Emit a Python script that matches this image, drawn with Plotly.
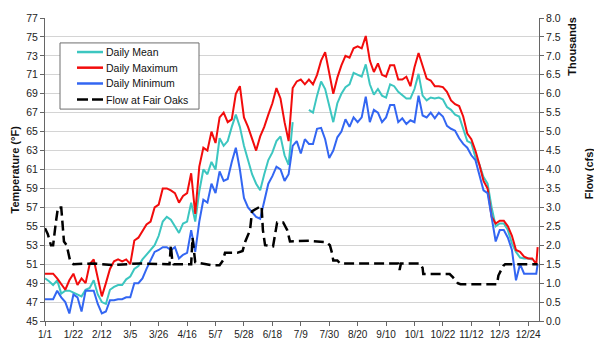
import plotly.graph_objects as go

# ---- data (day index from Jan 1) ----
day_index = list(range(0, 364, 3)) + [364]

daily_max = [50.0, 50.0, 50.0, 49.5, 48.9, 48.3, 49.3, 50.0, 48.8, 49.5, 49.0, 51.0, 51.5, 49.5, 47.6, 49.0,
             50.5, 51.3, 51.5, 51.3, 51.5, 51.0, 53.5, 53.8, 54.5, 55.2, 55.5, 57.0, 57.3, 59.0, 59.0, 58.8,
             58.5, 57.5, 58.2, 58.5, 60.6, 56.3, 61.3, 63.3, 63.0, 65.0, 63.8, 66.5, 67.0, 66.0, 66.3, 69.0,
             69.8, 66.5, 65.5, 64.2, 63.0, 64.5, 65.5, 66.8, 68.0, 69.6, 68.5, 66.0, 64.0, 69.6, 70.3, 70.5,
             70.0, 70.5, 70.0, 71.0, 72.5, 73.4, 71.0, 69.0, 70.7, 72.0, 73.0, 72.8, 73.8, 74.0, 73.8, 75.1,
             72.5, 71.3, 72.2, 71.0, 70.8, 72.0, 72.0, 70.5, 70.5, 70.8, 69.8, 71.8, 73.3, 72.0, 70.6, 70.4,
             69.8, 69.8, 69.7, 69.2, 68.3, 67.9, 67.7, 66.6, 64.8, 64.2, 63.0, 61.5, 59.8, 59.0, 56.0, 55.3,
             55.6, 55.6, 55.0, 54.0, 52.5, 52.3, 51.8, 51.6, 51.6, 51.0, 52.8]

daily_mean = [49.5, 49.2, 48.8, 49.3, 47.9, 48.2, 48.2, 48.0, 47.8, 47.6, 48.3, 48.5, 49.3, 47.8, 47.0, 46.8,
              48.3, 48.6, 48.8, 48.8, 49.4, 49.7, 50.5, 50.8, 51.5, 52.0, 52.5, 53.0, 54.0, 55.5, 56.0, 55.7,
              55.0, 54.3, 55.3, 55.5, 57.5, 55.5, 58.7, 61.0, 60.5, 61.8, 61.0, 64.3, 63.5, 64.0, 65.5, 66.8,
              65.5, 63.5, 62.0, 60.5, 59.5, 58.8, 60.5, 62.0, 62.8, 64.0, 64.5, 62.5, 61.5, 66.0, None, None,
              None, 67.3, 67.0, 68.8, 70.3, 69.5, 67.8, 66.0, 68.0, 69.0, 69.7, 70.0, 71.2, 71.0, 70.8, 72.1,
              70.0, 68.9, 69.5, 68.8, 68.6, 70.0, 69.8, 69.2, 68.8, 68.5, 68.5, 69.5, 71.1, 68.8, 68.3, 68.6,
              68.5, 68.6, 68.4, 67.6, 67.3, 66.8, 66.6, 65.4, 64.0, 63.8, 62.3, 61.5, 60.2, 59.5, 57.0, 55.0,
              55.3, 55.3, 54.6, 53.2, 52.3, 51.7, 51.6, 51.6, 51.5, None, None]

daily_min = [47.3, 47.3, 47.3, 48.2, 47.5, 47.0, 45.8, 47.8, 47.5, 46.0, 48.2, 48.2, 48.2, 46.8, 45.8, 46.0,
             47.2, 47.2, 47.3, 47.3, 47.5, 47.5, 49.0, 49.0, 49.5, 50.5, 51.5, 52.3, 52.5, 52.8, 52.8, 52.5,
             52.8, 51.6, 52.0, 52.2, 54.6, 52.3, 55.5, 57.8, 57.5, 59.5, 58.5, 60.8, 59.8, 60.0, 61.8, 63.3,
             61.0, 58.0, 57.0, 56.5, 56.0, 55.8, 57.5, 59.5, 60.3, 61.3, 61.0, 59.8, 60.5, 63.5, 64.0, 62.7,
             64.2, 63.7, 63.7, 65.3, 65.4, 64.2, 62.2, 63.0, 64.4, 65.0, 66.3, 65.5, 66.5, 66.0, 66.5, 68.7,
             66.0, 67.3, 67.0, 66.0, 66.5, 67.8, 67.8, 66.0, 66.4, 65.8, 66.2, 66.0, 68.8, 66.7, 66.5, 67.0,
             66.4, 67.0, 66.6, 65.6, 65.3, 65.1, 64.3, 63.7, 63.3, 62.5, 62.0, 60.3, 58.8, 58.5, 55.8, 53.4,
             54.6, 54.6, 53.8, 52.5, 49.3, 51.0, 50.0, 50.0, 50.0, 50.0, 51.0]

flow_day = [0, 2, 4.4, 6, 8, 9.6, 12, 13, 14, 16, 18.5, 21, 35, 50, 70, 91, 92, 93, 94, 95, 108, 109, 110, 111,
            124, 129, 131.5, 133, 142, 146, 148, 151.5, 153, 160, 161, 162.6, 168.5, 170, 171.5, 176, 179, 181,
            195, 208, 210.5, 212, 213, 216, 218, 240, 261, 262, 263, 277, 279, 279.5, 299, 301.5, 305, 307,
            334, 335, 338.5, 340, 364]
flow_kcfs = [2.45, 2.3, 2.0, 2.0, 2.6, 3.0, 3.0, 2.6, 2.1, 2.0, 1.6, 1.5, 1.52, 1.48, 1.52, 1.5, 1.5, 2.0, 1.6,
             1.5, 1.5, 2.2, 1.9, 1.55, 1.47, 1.47, 1.6, 1.8, 1.8, 1.85, 2.1, 2.4, 2.9, 3.04, 2.4, 2.0, 1.97,
             2.3, 2.6, 2.6, 2.4, 2.1, 2.12, 2.08, 2.0, 1.8, 1.6, 1.6, 1.52, 1.52, 1.52, 1.35, 1.52, 1.52, 1.4,
             1.24, 1.24, 1.15, 1.0, 0.97, 0.97, 1.2, 1.45, 1.5, 1.5]

tick_days = list(range(0, 358, 21))
tick_labels = ["1/1", "1/22", "2/12", "3/5", "3/26", "4/16", "5/7", "5/28", "6/18", "7/9", "7/30",
               "8/20", "9/10", "10/1", "10/22", "11/12", "12/3", "12/24"]

series_names = ["Daily Mean", "Daily Maximum", "Daily Minimum", "Flow at Fair Oaks"]
series_colors = ["#3CC6C0", "#F20C0C", "#3366F2", "#000000"]

FONT = "Liberation Sans, Arial, sans-serif"
W, H = 594, 352
ML, MR, MT, MB = 45, 55, 12, 24
PW, PH = W - ML - MR, H - MT - MB


def px_x(p):
    return (p - ML) / PW


def px_y(p):
    return (H - MB - p) / PH


fig = go.Figure()
fig.add_trace(go.Scatter(x=day_index, y=daily_mean, name=series_names[0], mode="lines",
                         line=dict(color=series_colors[0], width=2), connectgaps=False))
fig.add_trace(go.Scatter(x=day_index, y=daily_max, name=series_names[1], mode="lines",
                         line=dict(color=series_colors[1], width=2)))
fig.add_trace(go.Scatter(x=day_index, y=daily_min, name=series_names[2], mode="lines",
                         line=dict(color=series_colors[2], width=2)))
fig.add_trace(go.Scatter(x=flow_day, y=flow_kcfs, name=series_names[3], mode="lines", yaxis="y2",
                         line=dict(color=series_colors[3], width=2.5, dash="10px,5px")))

# custom legend (box, samples, labels)
shapes = [dict(type="rect", xref="paper", yref="paper", x0=px_x(60), x1=px_x(199), y0=px_y(107), y1=px_y(38),
               line=dict(color="#6e6e6e", width=1), fillcolor="white", layer="above")]
annotations = []
row_y = [47.5, 63.8, 80.3, 97.0]
for i, (nm, col) in enumerate(zip(series_names, series_colors)):
    yy = px_y(row_y[i])
    if i < 3:
        shapes.append(dict(type="line", xref="paper", yref="paper", x0=px_x(77), x1=px_x(103), y0=yy, y1=yy,
                           line=dict(color=col, width=2.5), layer="above"))
    else:
        for a, b in [(77, 88), (92, 103)]:
            shapes.append(dict(type="line", xref="paper", yref="paper", x0=px_x(a), x1=px_x(b), y0=yy, y1=yy,
                               line=dict(color=col, width=2.5), layer="above"))
    annotations.append(dict(text=nm, xref="paper", yref="paper", x=px_x(104), y=yy, xanchor="left",
                            yanchor="middle", showarrow=False, font=dict(size=10.5, color="#111")))

annotations += [
    dict(text="<b>Temperature (°F)</b>", xref="paper", yref="paper", x=px_x(14), y=0.5,
         xanchor="center", yanchor="middle", textangle=-90, showarrow=False, font=dict(size=11, color="#111")),
    dict(text="<b>Thousands</b>", xref="paper", yref="paper", x=px_x(572), y=px_y(42),
         xanchor="center", yanchor="middle", textangle=-90, showarrow=False, font=dict(size=11, color="#111")),
    dict(text="<b>Flow (cfs)</b>", xref="paper", yref="paper", x=px_x(589), y=px_y(174),
         xanchor="center", yanchor="middle", textangle=-90, showarrow=False, font=dict(size=11, color="#111")),
]

fig.update_layout(
    width=W, height=H, autosize=False,
    margin=dict(l=ML, r=MR, t=MT, b=MB),
    paper_bgcolor="white", plot_bgcolor="white",
    font=dict(family=FONT, size=10, color="#222"),
    showlegend=False,
    xaxis=dict(range=[0, 365], tickmode="array", tickvals=tick_days, ticktext=tick_labels, tickangle=0,
               showgrid=False, zeroline=False, showline=True, linecolor="#666", linewidth=1,
               ticks="outside", ticklen=4, tickcolor="#666", tickfont=dict(size=10)),
    yaxis=dict(range=[45, 77], dtick=2, tick0=45, showgrid=True, gridcolor="#d4d4d4", gridwidth=1,
               zeroline=False, showline=True, linecolor="#666", linewidth=1,
               ticks="outside", ticklen=4, tickcolor="#666", tickfont=dict(size=10.5)),
    yaxis2=dict(range=[0, 8], dtick=0.5, tick0=0, tickformat=".1f", overlaying="y", side="right",
                showgrid=False, zeroline=False, showline=True, linecolor="#666", linewidth=1,
                ticks="outside", ticklen=4, tickcolor="#666", tickfont=dict(size=10.5)),
    shapes=shapes,
    annotations=annotations,
)

fig.write_html("out.html")
